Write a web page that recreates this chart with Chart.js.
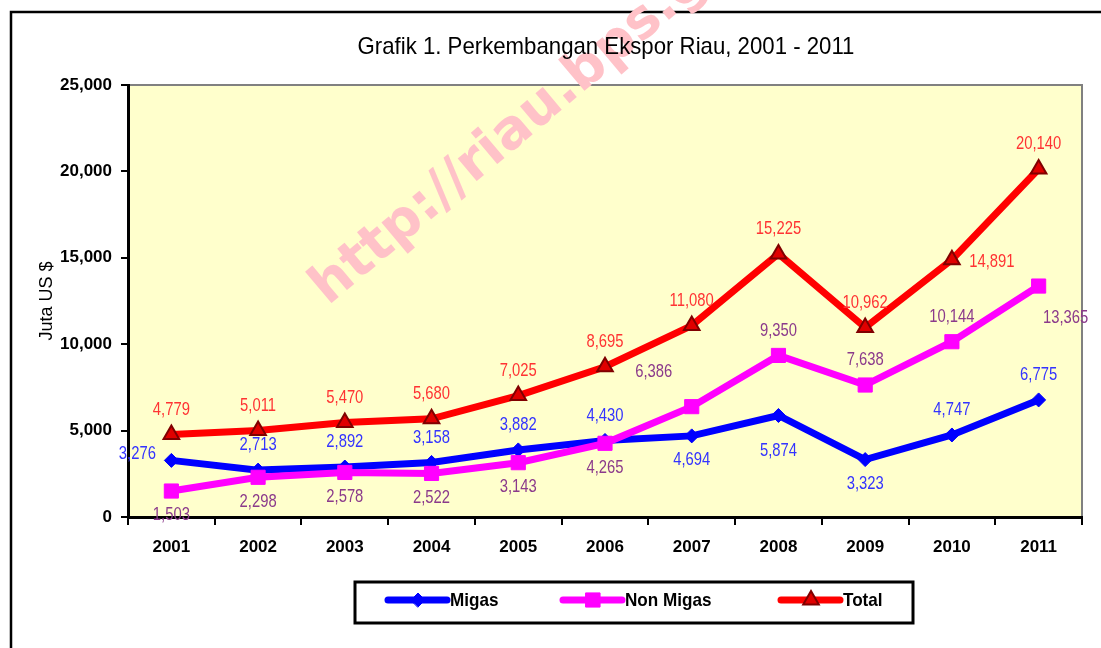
<!DOCTYPE html>
<html>
<head>
<meta charset="utf-8">
<title>Grafik 1. Perkembangan Ekspor Riau, 2001 - 2011</title>
<script src="https://cdn.jsdelivr.net/npm/chart.js@4.4.1/dist/chart.umd.min.js"></script>
<style>
  html, body { margin: 0; padding: 0; background: #fff; }
  canvas { display: block; }
</style>
</head>
<body>
<canvas id="eksporChart" width="1101" height="648"></canvas>
<script>
// data (juta US $)
const years = ['2001', '2002', '2003', '2004', '2005', '2006', '2007', '2008', '2009', '2010', '2011'];
const migas = [3276, 2713, 2892, 3158, 3882, 4430, 4694, 5874, 3323, 4747, 6775];
const nonMigas = [1503, 2298, 2578, 2522, 3143, 4265, 6386, 9350, 7638, 10144, 13365];
const total = [4779, 5011, 5470, 5680, 7025, 8695, 11080, 15225, 10962, 14891, 20140];

// where each value label sits relative to its point
const migasLabelPos = ['left', 'top', 'top', 'top', 'top', 'top', 'bottom', 'bottomFar', 'bottom', 'top', 'top'];
const nonMigasLabelPos = ['bottom', 'bottom', 'bottom', 'bottom', 'bottom', 'bottom', 'topLeft', 'top', 'top', 'top', 'bottomRight'];
const totalLabelPos = ['top', 'top', 'top', 'top', 'top', 'top', 'top', 'top', 'top', 'right', 'top'];

const FONT = '"Liberation Sans", Arial, sans-serif';

const labelOffsets = {
    top: [0, -25],
    bottom: [0, 24],
    bottomFar: [0, 35],
    left: [-34, -7],
    right: [40, 2],
    topLeft: [-38, -35],
    bottomRight: [27, 32]
};

const fmt = v => v.toLocaleString('en-US');

// text squeezed sideways, the original uses a narrow face
function narrowText(ctx, text, x, y, sx) {
    ctx.save();
    ctx.translate(x, y);
    ctx.scale(sx, 1);
    ctx.fillText(text, 0, 0);
    ctx.restore();
}

const chartBox = {
    id: 'chartBox',
    beforeDraw(chart) {
        const { ctx, chartArea: a } = chart;
        ctx.save();
        ctx.fillStyle = '#ffffcc';
        ctx.fillRect(a.left, a.top, a.right - a.left, a.bottom - a.top);
        ctx.strokeStyle = '#808080';
        ctx.lineWidth = 2;
        ctx.beginPath();
        ctx.moveTo(a.left, a.top);
        ctx.lineTo(a.right, a.top);
        ctx.lineTo(a.right, a.bottom);
        ctx.stroke();
        ctx.restore();
    }
};

const valueLabels = {
    id: 'valueLabels',
    afterDatasetsDraw(chart) {
        const ctx = chart.ctx;
        ctx.save();
        ctx.font = '19px ' + FONT;
        ctx.textAlign = 'center';
        ctx.textBaseline = 'middle';
        chart.data.datasets.forEach((ds, di) => {
            const meta = chart.getDatasetMeta(di);
            meta.data.forEach((pt, i) => {
                const off = labelOffsets[ds.labelPos[i]];
                ctx.fillStyle = ds.labelColor;
                narrowText(ctx, fmt(ds.data[i]), pt.x + off[0], pt.y + off[1], 0.78);
            });
        });
        ctx.restore();
    }
};

const extras = {
    id: 'extras',
    afterDraw(chart) {
        const ctx = chart.ctx;
        ctx.save();

        // outer frame
        ctx.strokeStyle = '#000';
        ctx.lineWidth = 2.5;
        ctx.strokeRect(11, 12, 1200, 800);

        // watermark
        ctx.save();
        ctx.translate(328, 306);
        ctx.rotate(-40 * Math.PI / 180);
        ctx.fillStyle = '#ffc2c8';
        ctx.font = 'bold 54px "DejaVu Sans", sans-serif';
        ctx.textAlign = 'left';
        ctx.textBaseline = 'alphabetic';
        ctx.fillText('http://riau.bps.go.id', 0, 0);
        ctx.restore();

        // title
        ctx.fillStyle = '#000';
        ctx.font = '24px ' + FONT;
        ctx.textAlign = 'center';
        ctx.textBaseline = 'middle';
        narrowText(ctx, 'Grafik 1. Perkembangan Ekspor Riau, 2001 - 2011', 606, 47, 0.925);

        // legend box
        ctx.strokeStyle = '#000';
        ctx.lineWidth = 3;
        ctx.strokeRect(355, 582, 558, 41);
        const items = [
            { ds: chart.data.datasets[0], x: 388 },
            { ds: chart.data.datasets[1], x: 563 },
            { ds: chart.data.datasets[2], x: 781 }
        ];
        const y = 600;
        items.forEach(it => {
            const ds = it.ds;
            ctx.strokeStyle = ds.borderColor;
            ctx.lineWidth = 7;
            ctx.lineCap = 'round';
            ctx.beginPath();
            ctx.moveTo(it.x, y);
            ctx.lineTo(it.x + 59, y);
            ctx.stroke();
            ctx.fillStyle = ds.pointBackgroundColor;
            ctx.strokeStyle = ds.pointBorderColor;
            ctx.lineWidth = ds.pointBorderWidth;
            Chart.helpers.drawPoint(ctx, {
                pointStyle: ds.pointStyle,
                radius: ds.pointRadius,
                borderWidth: ds.pointBorderWidth
            }, it.x + 30, y);
            ctx.fillStyle = '#000';
            ctx.font = 'bold 19px ' + FONT;
            ctx.textAlign = 'left';
            ctx.textBaseline = 'middle';
            narrowText(ctx, ds.label, it.x + 62, y + 1, 0.9);
        });

        ctx.restore();
    }
};

new Chart(document.getElementById('eksporChart'), {
    type: 'line',
    data: {
        labels: years,
        datasets: [
            {
                label: 'Migas',
                data: migas,
                borderColor: '#0000ff',
                borderWidth: 7,
                pointStyle: 'rectRot',
                pointRadius: 7,
                pointBackgroundColor: '#0000ff',
                pointBorderColor: '#0000ff',
                pointBorderWidth: 1,
                labelColor: '#3333ff',
                labelPos: migasLabelPos,
                order: 3
            },
            {
                label: 'Non Migas',
                data: nonMigas,
                borderColor: '#ff00ff',
                borderWidth: 7,
                pointStyle: 'rect',
                pointRadius: 10,
                pointBackgroundColor: '#ff00ff',
                pointBorderColor: '#ff00ff',
                pointBorderWidth: 1,
                labelColor: '#8b3a8b',
                labelPos: nonMigasLabelPos,
                order: 2
            },
            {
                label: 'Total',
                data: total,
                borderColor: '#ff0000',
                borderWidth: 7,
                pointStyle: 'triangle',
                pointRadius: 9,
                pointBackgroundColor: '#e00000',
                pointBorderColor: '#800000',
                pointBorderWidth: 2,
                labelColor: '#ff3333',
                labelPos: totalLabelPos,
                order: 1
            }
        ]
    },
    options: {
        responsive: false,
        animation: false,
        layout: { padding: { top: 85, right: 19, left: 0, bottom: 0 } },
        plugins: {
            legend: { display: false },
            tooltip: { enabled: false },
            title: { display: false }
        },
        elements: { line: { tension: 0 } },
        scales: {
            x: {
                offset: true,
                grid: {
                    offset: true,
                    drawOnChartArea: false,
                    drawTicks: true,
                    tickLength: 8,
                    color: '#000',
                    lineWidth: 2
                },
                border: { display: true, color: '#000', width: 3 },
                ticks: {
                    color: '#000',
                    font: { family: FONT, size: 17, weight: 'bold' },
                    padding: 12,
                    maxRotation: 0
                },
                afterFit(scale) { scale.height = 131; }
            },
            y: {
                min: 0,
                max: 25000,
                grid: {
                    drawOnChartArea: false,
                    drawTicks: true,
                    tickLength: 7,
                    color: '#000',
                    lineWidth: 2
                },
                border: { display: true, color: '#000', width: 3 },
                ticks: {
                    stepSize: 5000,
                    color: '#000',
                    font: { family: FONT, size: 17, weight: 'bold' },
                    padding: 9,
                    callback: v => fmt(v)
                },
                title: {
                    display: true,
                    text: 'Juta US $',
                    color: '#000',
                    font: { family: FONT, size: 18 },
                    padding: { top: 36, bottom: 0 }
                },
                afterFit(scale) { scale.width = 128; }
            }
        }
    },
    plugins: [chartBox, valueLabels, extras]
});
</script>
</body>
</html>
